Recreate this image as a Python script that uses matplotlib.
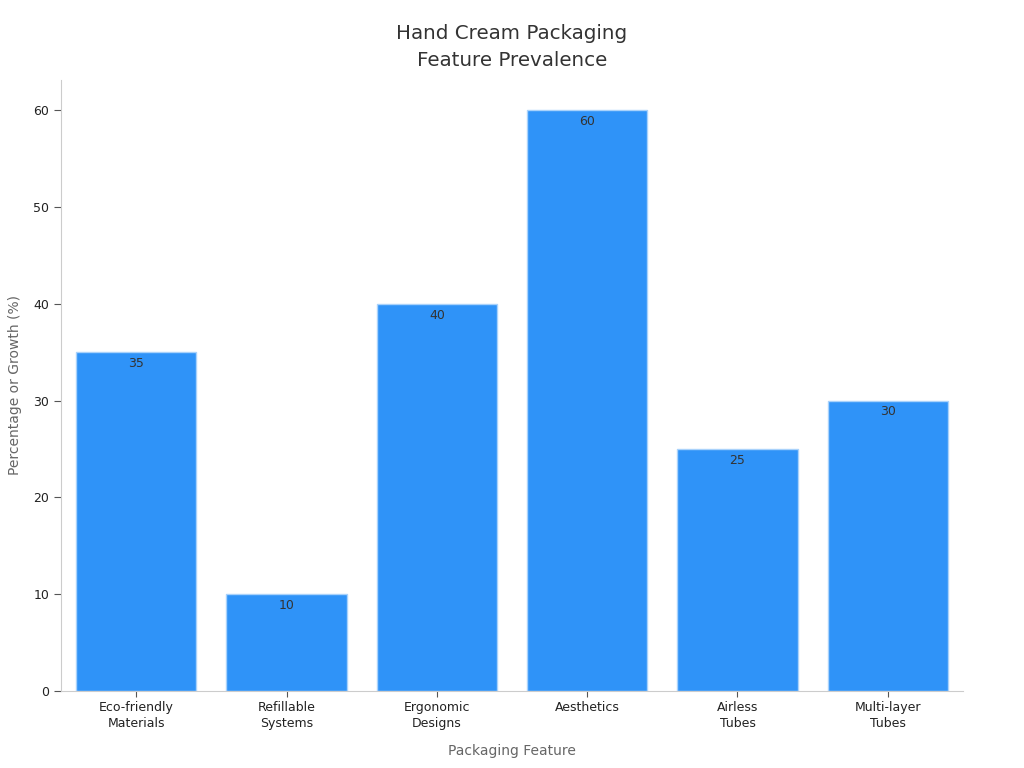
import matplotlib
matplotlib.use("Agg")
import matplotlib.pyplot as plt

categories = ["Eco-friendly\nMaterials", "Refillable\nSystems", "Ergonomic\nDesigns",
              "Aesthetics", "Airless\nTubes", "Multi-layer\nTubes"]
values = [35, 10, 40, 60, 25, 30]

fig = plt.figure(figsize=(10.24, 7.68), dpi=100)
ax = fig.add_axes([0.0596, 0.1003, 0.8808, 0.7955])

x = range(len(categories))
bars = ax.bar(x, values, width=0.8, color="#2F93F8", edgecolor="#A9D2FB", linewidth=1)
for b, v in zip(bars, values):
    ax.text(b.get_x() + b.get_width() / 2, v - 0.5, f"{v}", ha="center", va="top",
            fontsize=9, color="#333333")

ax.set_xlim(-0.5, 5.5)
ax.set_ylim(0, 63.1)
ax.set_xticks(list(x))
ax.set_xticklabels(categories, fontsize=9, color="#222222", linespacing=1.3)
ax.set_yticks([0, 10, 20, 30, 40, 50, 60])
ax.tick_params(axis="y", labelsize=9, colors="#222222", length=5, color="#555555")
ax.tick_params(axis="x", length=4, color="#555555")
for s in ["top", "right"]:
    ax.spines[s].set_visible(False)
for s in ["left", "bottom"]:
    ax.spines[s].set_color("#CCCCCC")

ax.set_xlabel("Packaging Feature", fontsize=10, color="#666666", labelpad=10)
ax.set_ylabel("Percentage or Growth (%)", fontsize=10, color="#666666", labelpad=8)
ax.set_title("Hand Cream Packaging\nFeature Prevalence", fontsize=14.3, color="#333333",
             pad=10, linespacing=1.55)

fig.savefig("out.png", dpi=100)
